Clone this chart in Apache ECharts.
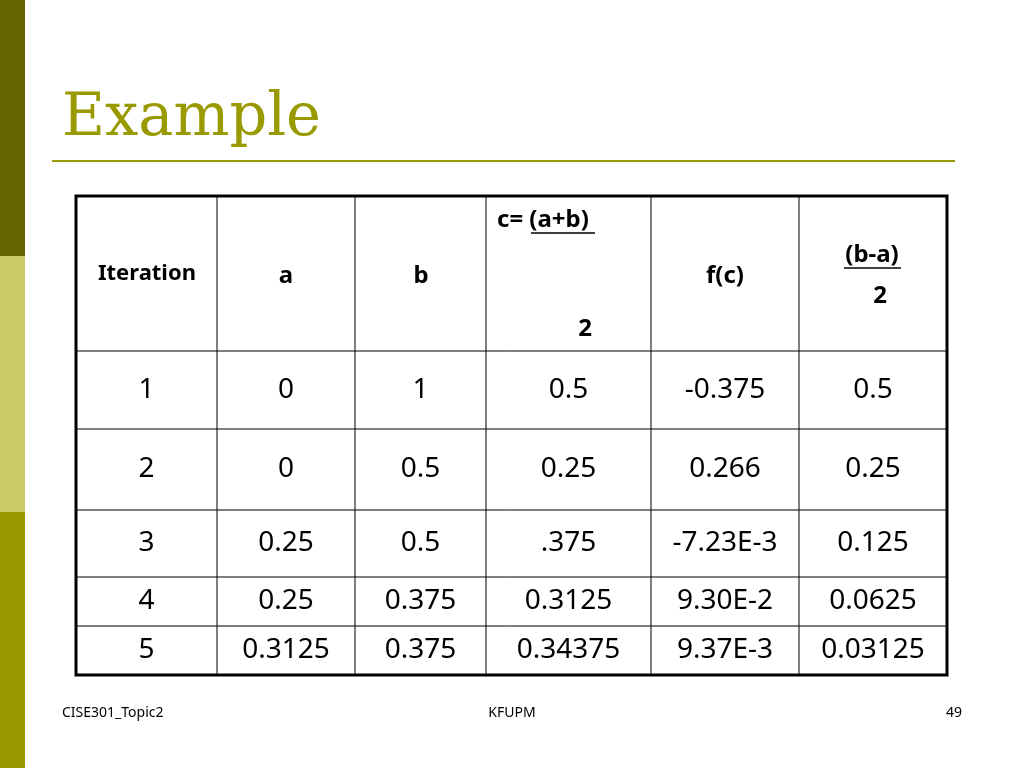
<!DOCTYPE html>
<html><head><meta charset="utf-8">
<script src="https://cdn.jsdelivr.net/npm/echarts@6/dist/echarts.min.js"></script>
<style>html,body{margin:0;padding:0;background:#fff}#c{width:1024px;height:768px}</style>
</head><body><div id="c"></div>
<script>
const title = "Example";
const headers = ["Iteration","a","b","c= (a+b)","f(c)","(b-a)"];
const iterations = ["1","2","3","4","5"];
const colA = ["0","0","0.25","0.25","0.3125"];
const colB = ["1","0.5","0.5","0.375","0.375"];
const colC = ["0.5","0.25",".375","0.3125","0.34375"];
const colF = ["-0.375","0.266","-7.23E-3","9.30E-2","9.37E-3"];
const colH = ["0.5","0.25","0.125","0.0625","0.03125"];
const footer = ["CISE301_Topic2","KFUPM","49"];

const xs = [76,217,355,486,651,799,947];
const ys = [196,351,429,510,577,626,675];
const F = "'Noto Sans', 'DejaVu Sans', sans-serif";
const g = [];
g.push({type:'rect',shape:{x:0,y:0,width:25,height:256},style:{fill:'#666600'}});
g.push({type:'rect',shape:{x:0,y:256,width:25,height:256},style:{fill:'#cccc66'}});
g.push({type:'rect',shape:{x:0,y:512,width:25,height:256},style:{fill:'#999900'}});
g.push({type:'text',style:{text:title,x:62,y:120,fill:'#999900',font:"59px 'DejaVu Serif', 'Liberation Serif', serif",textVerticalAlign:'middle'}});
g.push({type:'line',shape:{x1:52,y1:161,x2:955,y2:161},style:{stroke:'#999900',lineWidth:2}});
for(let i=1;i<xs.length-1;i++) g.push({type:'line',shape:{x1:xs[i],y1:ys[0],x2:xs[i],y2:ys[ys.length-1]},style:{stroke:'#000',lineWidth:1}});
for(let j=1;j<ys.length-1;j++) g.push({type:'line',shape:{x1:xs[0],y1:ys[j],x2:xs[xs.length-1],y2:ys[j]},style:{stroke:'#000',lineWidth:1}});
g.push({type:'rect',shape:{x:xs[0],y:ys[0],width:xs[6]-xs[0],height:ys[6]-ys[0]},style:{fill:null,stroke:'#000',lineWidth:3}});
function t(s,x,y,font,align){g.push({type:'text',style:{text:s,x:x,y:y,fill:'#000',font:font,textAlign:align||'center',textVerticalAlign:'middle'}});}
const hb = "bold 24px "+F;
t(headers[0],147,274,"bold 22px "+F);
t(headers[1],286,276,hb);
t(headers[2],421,276,hb);
t(headers[3],497,220,hb,'left');
g.push({type:'line',shape:{x1:531,y1:233,x2:595,y2:233},style:{stroke:'#000',lineWidth:1.5}});
t("2",585,329,hb);
t(headers[4],725,276,hb);
t(headers[5],872,255,hb);
g.push({type:'line',shape:{x1:844,y1:268,x2:901,y2:268},style:{stroke:'#000',lineWidth:1.5}});
t("2",880,296,hb);
const cols=[iterations,colA,colB,colC,colF,colH];
const bf="28px "+F;
for(let j=0;j<5;j++){const cy=(ys[j+1]+ys[j+2])/2;for(let i=0;i<6;i++)t(cols[i][j],(xs[i]+xs[i+1])/2,cy,bf);}
t(footer[0],62,713,"14px "+F,'left');
t(footer[1],512,713,"14px "+F);
t(footer[2],962,713,"14px "+F,'right');
const ch=echarts.init(document.getElementById('c'));
ch.setOption({animation:false,graphic:g});
</script></body></html>
